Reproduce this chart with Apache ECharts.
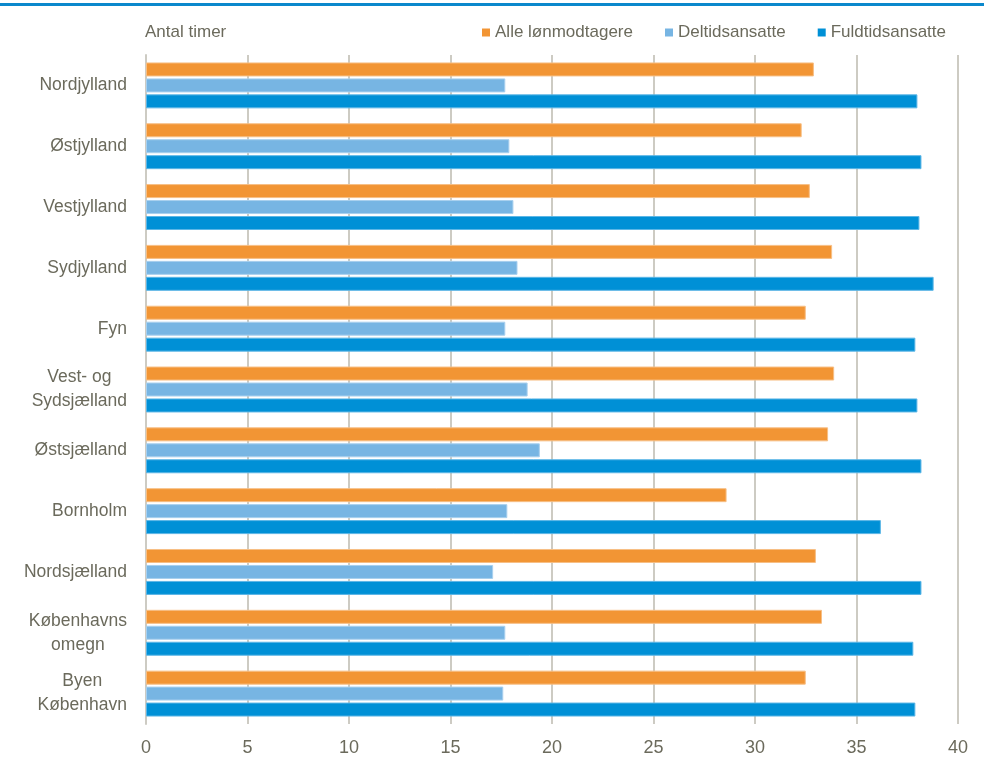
<!DOCTYPE html>
<html><head><meta charset="utf-8">
<script src="https://cdn.jsdelivr.net/npm/echarts@6/dist/echarts.min.js"></script>
<style>html,body{margin:0;padding:0;background:#fff}#c{width:984px;height:764px}</style>
</head><body><div id="c"></div>
<script>
const categories = ['Nordjylland','Østjylland','Vestjylland','Sydjylland','Fyn','Vest- og\nSydsjælland','Østsjælland','Bornholm','Nordsjælland','Københavns\nomegn','Byen\nKøbenhavn'];
const alle = [32.9, 32.3, 32.7, 33.8, 32.5, 33.9, 33.6, 28.6, 33.0, 33.3, 32.5];
const deltid = [17.7, 17.9, 18.1, 18.3, 17.7, 18.8, 19.4, 17.8, 17.1, 17.7, 17.6];
const fuldtid = [38.0, 38.2, 38.1, 38.8, 37.9, 38.0, 38.2, 36.2, 38.2, 37.8, 37.9];
const xTicks = [0, 5, 10, 15, 20, 25, 30, 35, 40];

const FONT = '"Liberation Sans", Arial, sans-serif';
const TXT = '#6b6a5c';
const chart = echarts.init(document.getElementById('c'));
chart.setOption({
  animation: false,
  textStyle: {fontFamily: FONT},
  graphic: [{type: 'rect', left: 0, top: 3, shape: {width: 984, height: 3}, style: {fill: '#0a88cc'}}],
  title: {text: 'Antal timer', left: 140, top: 19, textStyle: {fontFamily: FONT, fontSize: 17, fontWeight: 'normal', color: TXT}},
  legend: {
    right: 33, top: 19, itemWidth: 8, itemHeight: 8, itemGap: 32, icon: 'rect',
    itemStyle: {borderWidth: 0},
    textStyle: {fontFamily: FONT, fontSize: 17, color: TXT},
    data: ['Alle lønmodtagere', 'Deltidsansatte', 'Fuldtidsansatte']
  },
  grid: {left: 146, right: 26, top: 55, bottom: 40},
  xAxis: {
    type: 'value', min: xTicks[0], max: xTicks[xTicks.length - 1], interval: 5,
    axisLine: {show: false}, axisTick: {show: false},
    axisLabel: {fontFamily: FONT, fontSize: 18, color: TXT, margin: 15},
    splitLine: {lineStyle: {color: '#cdcbc3', width: 2}}
  },
  yAxis: {
    type: 'category', data: categories, inverse: true,
    axisLine: {lineStyle: {color: '#cdcbc3', width: 2}}, axisTick: {show: false},
    axisLabel: {
      fontFamily: FONT, fontSize: 17.5, color: TXT, margin: 19, lineHeight: 24,
      formatter: v => v.split('\n').map(l => '{c|' + l + '}').join('\n'),
      rich: {c: {align: 'center', fontFamily: FONT, fontSize: 17.5, color: TXT, lineHeight: 24}}
    }
  },
  series: [
    {name: 'Alle lønmodtagere', type: 'bar', data: alle, barWidth: 14, barGap: '14%',
     itemStyle: {color: '#f29534', borderColor: '#f7bf85', borderWidth: 1}},
    {name: 'Deltidsansatte', type: 'bar', data: deltid, barWidth: 14, barGap: '14%',
     itemStyle: {color: '#77b5e3', borderColor: '#a9d0ee', borderWidth: 1}},
    {name: 'Fuldtidsansatte', type: 'bar', data: fuldtid, barWidth: 14, barGap: '14%',
     itemStyle: {color: '#0090d6', borderColor: '#5cb6e6', borderWidth: 1}}
  ]
});
</script></body></html>
